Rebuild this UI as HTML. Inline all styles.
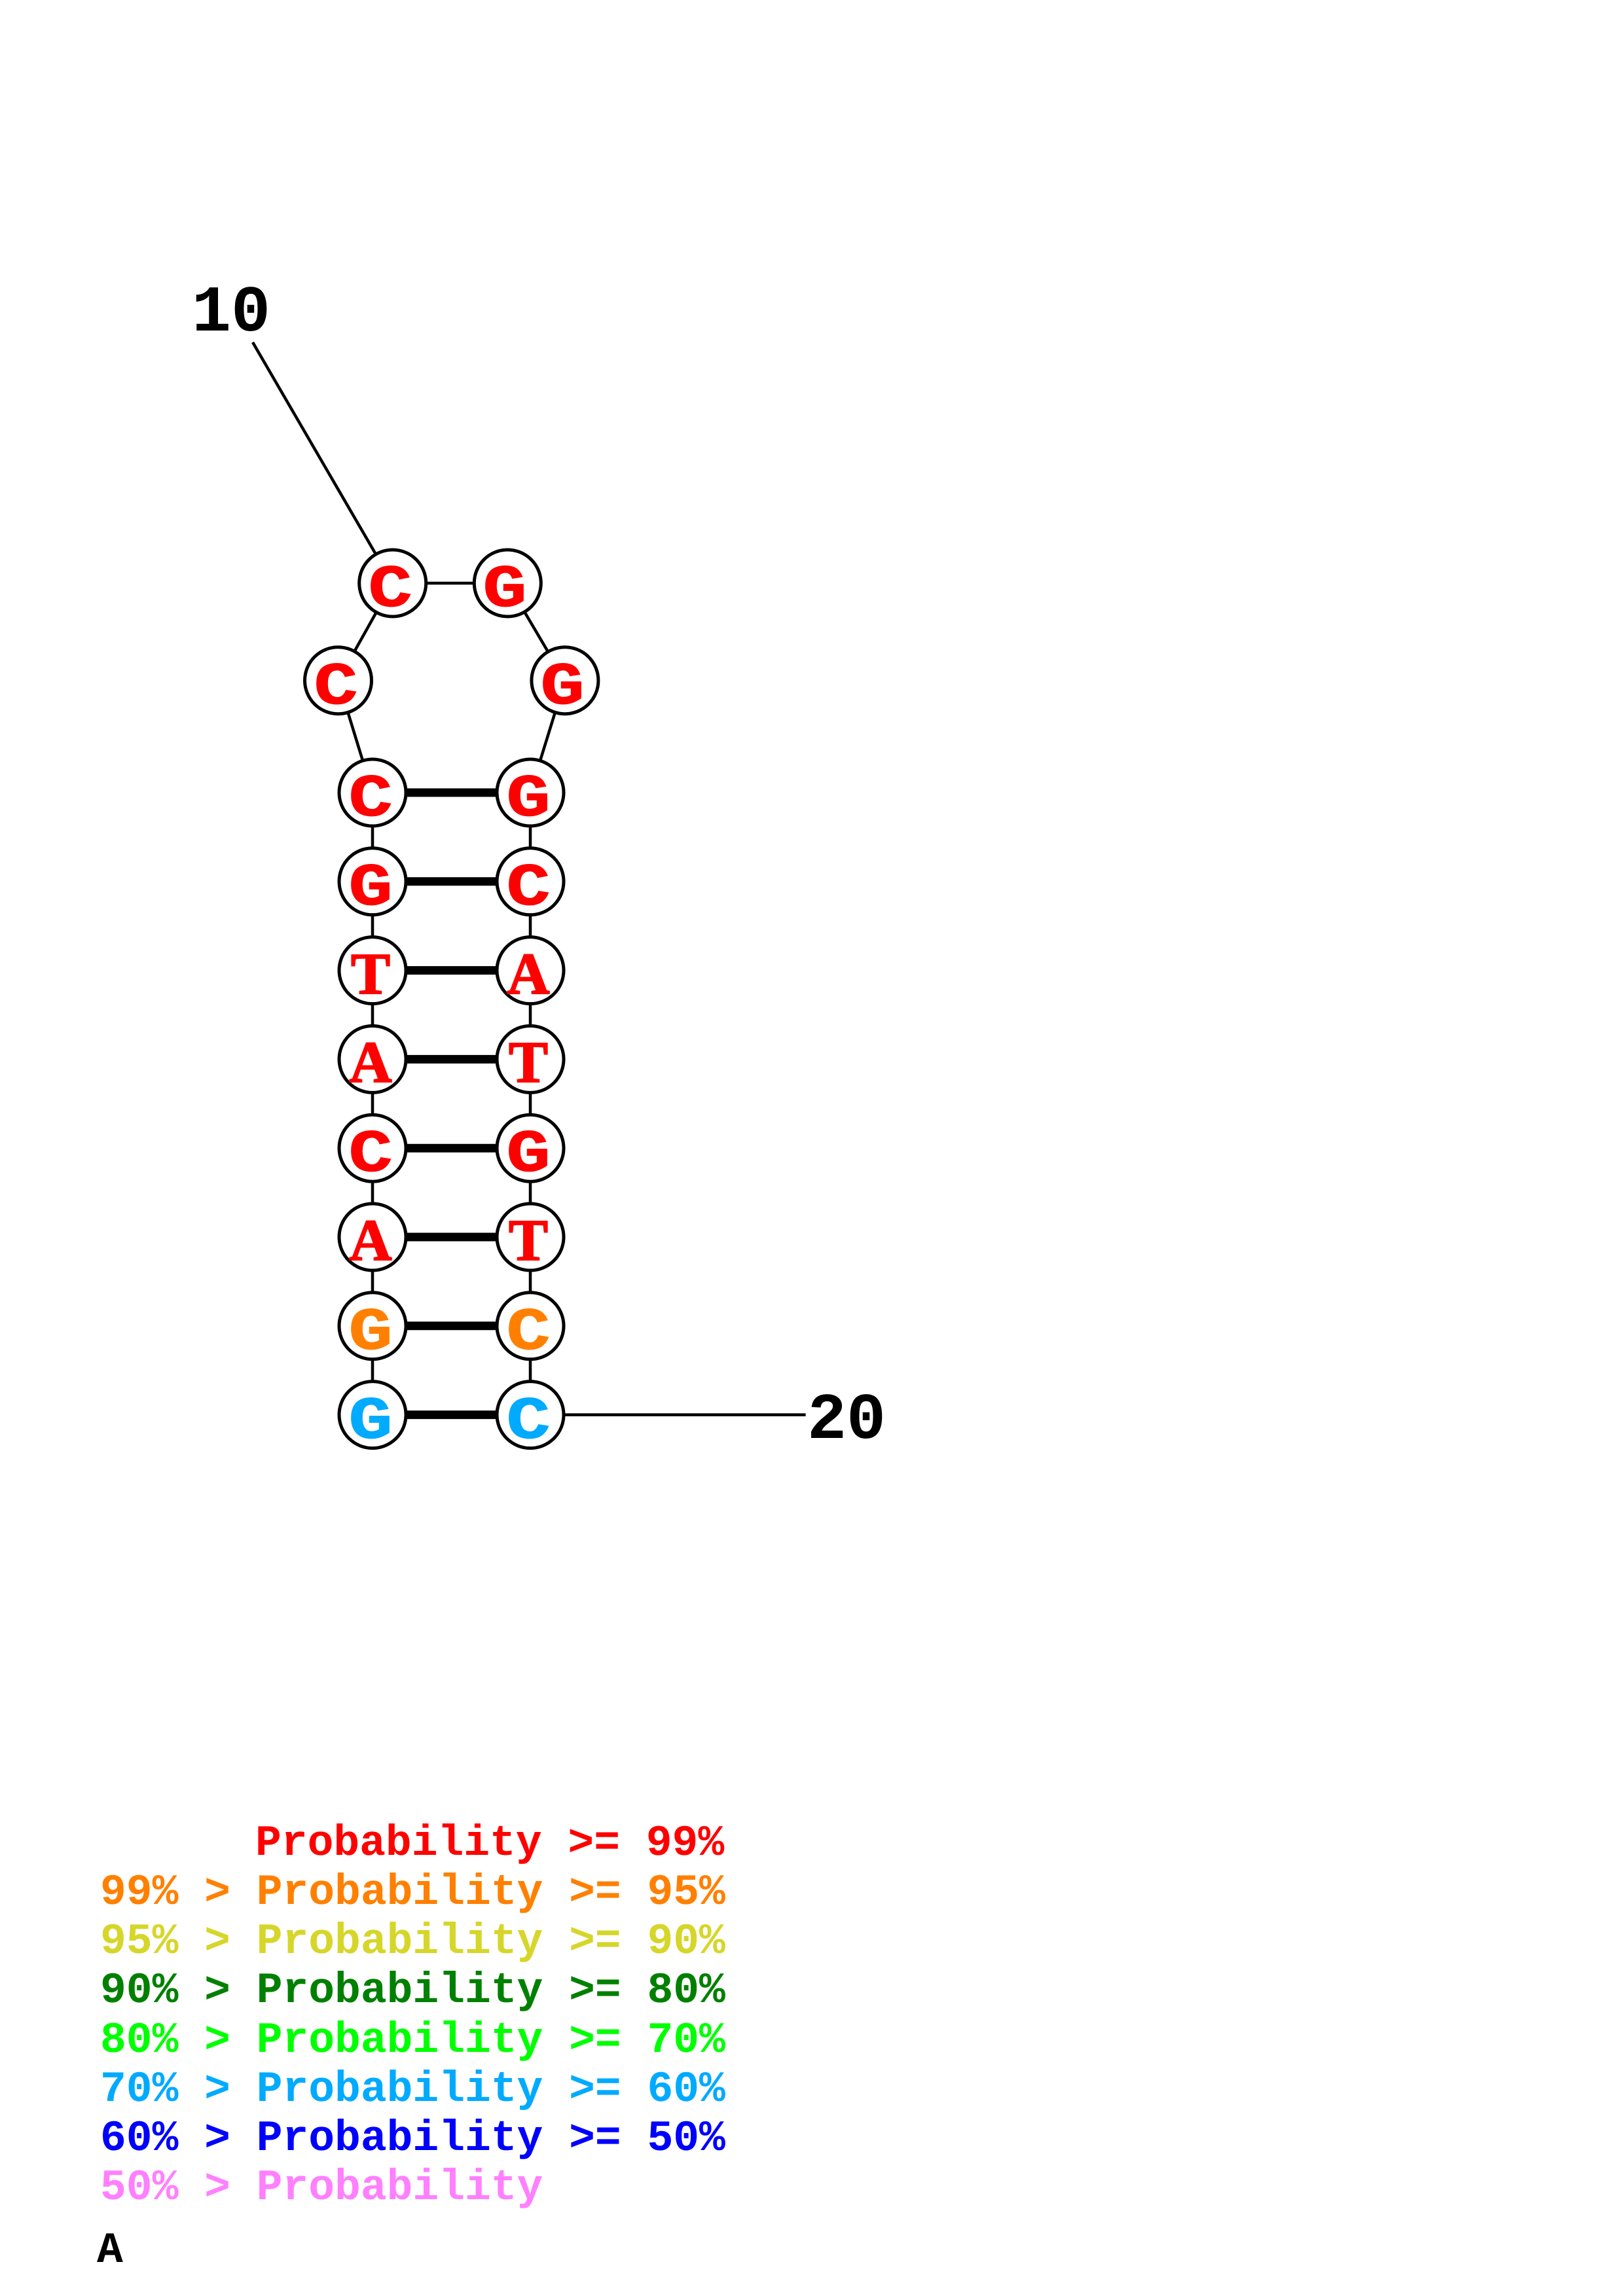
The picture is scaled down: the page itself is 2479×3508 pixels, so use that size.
<!DOCTYPE html>
<html><head><meta charset="utf-8"><style>
html,body{margin:0;padding:0;background:#fff}
svg{display:block}
text{font-family:"Liberation Mono",monospace;font-weight:bold;text-rendering:geometricPrecision}
.n{font-size:92px;text-anchor:middle}
.s{font-family:"Liberation Serif",serif;font-size:90px;stroke-width:2px}
.l{font-size:66.3px;white-space:pre}
.r{fill:#f00;stroke:#f00}.o{fill:#ff8000;stroke:#ff8000}.b{fill:#00aaff;stroke:#00aaff}
.m{stroke-width:1px}
</style></head><body>
<svg xmlns="http://www.w3.org/2000/svg" width="2479" height="3508" viewBox="0 0 2479 3508">
<rect width="2479" height="3508" fill="#fff"/>
<g stroke="#000" stroke-width="4.5" fill="none">
<line x1="386" y1="523" x2="599.7" y2="891"/>
<line x1="599.7" y1="891" x2="775.3" y2="891"/>
<line x1="599.7" y1="891" x2="516.5" y2="1039.7"/>
<line x1="775.3" y1="891" x2="862.9" y2="1039.7"/>
<line x1="516.5" y1="1039.7" x2="569" y2="1211"/>
<line x1="862.9" y1="1039.7" x2="810" y2="1211"/>
<line x1="569" y1="1211" x2="569" y2="2161.6"/>
<line x1="810" y1="1211" x2="810" y2="2161.6"/>
<line x1="810" y1="2161.6" x2="1230.6" y2="2161.6"/>
</g>
<g stroke="#000" stroke-width="13">
<line x1="569" y1="1211" x2="810" y2="1211"/>
<line x1="569" y1="1346.8" x2="810" y2="1346.8"/>
<line x1="569" y1="1482.6" x2="810" y2="1482.6"/>
<line x1="569" y1="1618.4" x2="810" y2="1618.4"/>
<line x1="569" y1="1754.2" x2="810" y2="1754.2"/>
<line x1="569" y1="1890" x2="810" y2="1890"/>
<line x1="569" y1="2025.8" x2="810" y2="2025.8"/>
<line x1="569" y1="2161.6" x2="810" y2="2161.6"/>
</g>
<g stroke="#000" stroke-width="5" fill="#fff">
<circle cx="599.7" cy="891" r="51"/><circle cx="775.3" cy="891" r="51"/>
<circle cx="516.5" cy="1039.7" r="51"/><circle cx="862.9" cy="1039.7" r="51"/>
<circle cx="569" cy="1211" r="51"/><circle cx="810" cy="1211" r="51"/>
<circle cx="569" cy="1346.8" r="51"/><circle cx="810" cy="1346.8" r="51"/>
<circle cx="569" cy="1482.6" r="51"/><circle cx="810" cy="1482.6" r="51"/>
<circle cx="569" cy="1618.4" r="51"/><circle cx="810" cy="1618.4" r="51"/>
<circle cx="569" cy="1754.2" r="51"/><circle cx="810" cy="1754.2" r="51"/>
<circle cx="569" cy="1890" r="51"/><circle cx="810" cy="1890" r="51"/>
<circle cx="569" cy="2025.8" r="51"/><circle cx="810" cy="2025.8" r="51"/>
<circle cx="569" cy="2161.6" r="51"/><circle cx="810" cy="2161.6" r="51"/>
</g>
<text class="n m r" transform="translate(596,926) scale(1.22,1)">C</text>
<text class="n m r" transform="translate(771,926) scale(1.22,1)">G</text>
<text class="n m r" transform="translate(513,1075) scale(1.22,1)">C</text>
<text class="n m r" transform="translate(859,1075) scale(1.22,1)">G</text>
<text class="n m r" transform="translate(566,1246) scale(1.22,1)">C</text>
<text class="n m r" transform="translate(807,1246) scale(1.22,1)">G</text>
<text class="n m r" transform="translate(566,1382) scale(1.22,1)">G</text>
<text class="n m r" transform="translate(807,1382) scale(1.22,1)">C</text>
<text class="n s r" x="566" y="1518">T</text>
<text class="n s r" x="807" y="1518">A</text>
<text class="n s r" x="566" y="1653">A</text>
<text class="n s r" x="807" y="1653">T</text>
<text class="n m r" transform="translate(566,1789) scale(1.22,1)">C</text>
<text class="n m r" transform="translate(807,1789) scale(1.22,1)">G</text>
<text class="n s r" x="566" y="1925">A</text>
<text class="n s r" x="807" y="1925">T</text>
<text class="n m o" transform="translate(566,2061) scale(1.22,1)">G</text>
<text class="n m o" transform="translate(807,2061) scale(1.22,1)">C</text>
<text class="n m b" transform="translate(566,2197) scale(1.22,1)">G</text>
<text class="n m b" transform="translate(807,2197) scale(1.22,1)">C</text>
<text x="293" y="505" font-size="100">10</text>
<text x="1233" y="2197" font-size="100">20</text>
<text class="l" fill="#ff0000" x="390" y="2834">Probability &gt;= 99%</text>
<text class="l" fill="#ff8000" x="153" y="2909">99% &gt; Probability &gt;= 95%</text>
<text class="l" fill="#d6d62a" x="153" y="2984">95% &gt; Probability &gt;= 90%</text>
<text class="l" fill="#008000" x="153" y="3059">90% &gt; Probability &gt;= 80%</text>
<text class="l" fill="#00ff00" x="153" y="3135">80% &gt; Probability &gt;= 70%</text>
<text class="l" fill="#00aaff" x="153" y="3210">70% &gt; Probability &gt;= 60%</text>
<text class="l" fill="#0000ff" x="153" y="3285">60% &gt; Probability &gt;= 50%</text>
<text class="l" fill="#ff80ff" x="153" y="3360">50% &gt; Probability</text>
<text class="l" fill="#000" x="148" y="3456">A</text>
</svg>
</body></html>
